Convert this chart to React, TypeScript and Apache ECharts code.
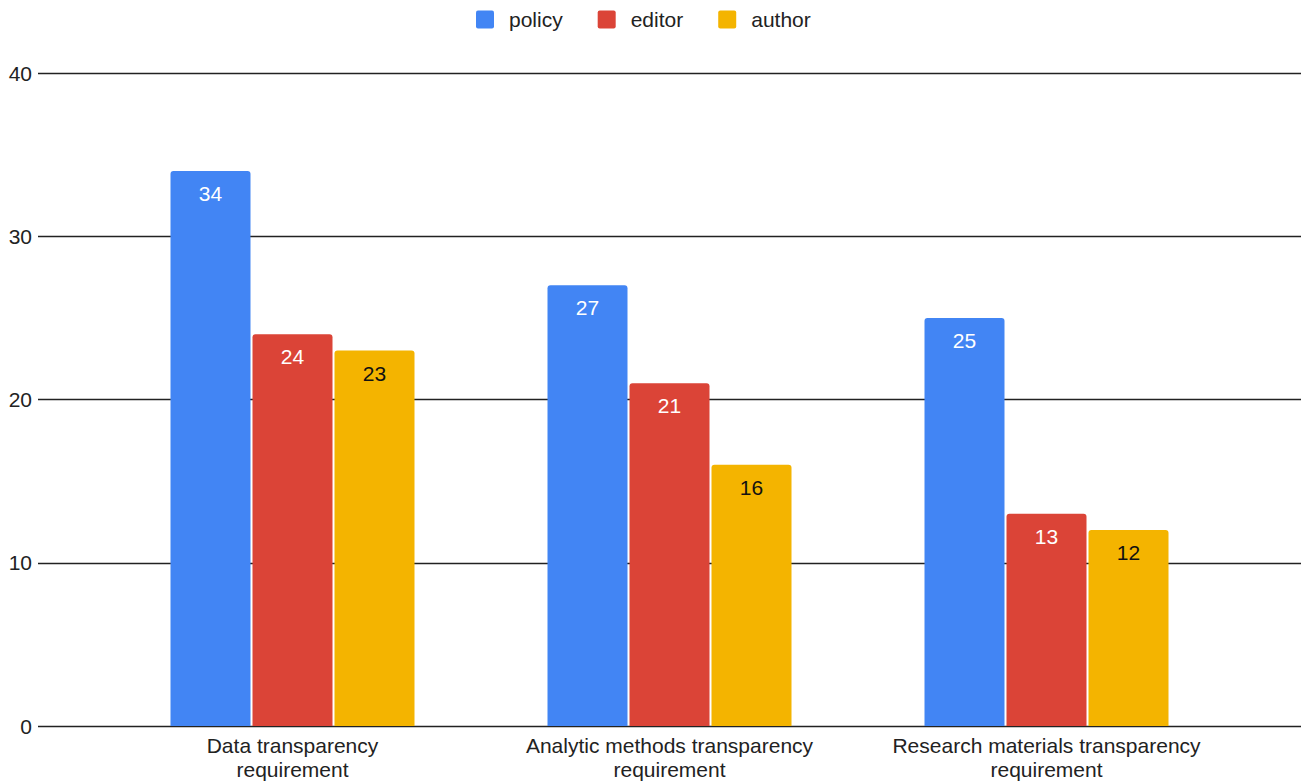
import React, { useEffect, useRef } from "react";
import * as echarts from "echarts";

const categories = [
  "Data transparency\nrequirement",
  "Analytic methods transparency\nrequirement",
  "Research materials transparency\nrequirement",
];
const policy = [34, 27, 25];
const editor = [24, 21, 13];
const author = [23, 16, 12];
const yTicks = { min: 0, max: 40, interval: 10 };

const FONT = "'Liberation Sans', Arial, sans-serif";
const SQUARE = "path://M2,0 H16 Q18,0 18,2 V16 Q18,18 16,18 H2 Q0,18 0,16 V2 Q0,0 2,0 Z";

export default function App() {
  const ref = useRef<HTMLDivElement>(null);
  useEffect(() => {
    document.body.style.margin = "0";
    const chart = echarts.init(ref.current!, undefined, { renderer: "svg" });
    const mkSeries = (name: string, data: number[], color: string, labelColor: string) => ({
      name,
      type: "bar",
      xAxisIndex: 1,
      yAxisIndex: 1,
      data,
      barWidth: 80,
      barGap: "2.5%",
      itemStyle: { color, borderRadius: [3, 3, 0, 0] },
      label: {
        show: true,
        position: "insideTop",
        distance: 12,
        color: labelColor,
        fontSize: 21,
        fontFamily: FONT,
      },
    });
    chart.setOption({
      animation: false,
      textStyle: { fontFamily: FONT },
      legend: {
        top: 4,
        left: 471,
        itemWidth: 18,
        itemHeight: 18,
        itemGap: 35,
        icon: SQUARE,
        textStyle: { fontSize: 21, color: "#222", fontFamily: FONT, padding: [0, 0, 0, 10] },
        data: ["policy", "editor", "author"],
      },
      grid: [
        { left: 38, right: 8, top: 73, bottom: 56 },
        { left: 104, right: 74, top: 73, bottom: 56 },
      ],
      xAxis: [
        {
          type: "category",
          gridIndex: 0,
          data: categories,
          show: false,
        },
        {
          type: "category",
          gridIndex: 1,
          data: categories,
          axisLine: { show: false },
          axisTick: { show: false },
          axisLabel: {
            fontSize: 21,
            color: "#222",
            fontFamily: FONT,
            lineHeight: 24,
            margin: 7,
            interval: 0,
          },
        },
      ],
      yAxis: [
        {
          type: "value",
          gridIndex: 0,
          ...yTicks,
          axisLine: { show: false },
          axisTick: { show: false },
          axisLabel: { fontSize: 21, color: "#222", fontFamily: FONT, margin: 6 },
          splitLine: { lineStyle: { color: "#222", width: 1.3 } },
        },
        {
          type: "value",
          gridIndex: 1,
          ...yTicks,
          show: false,
          splitLine: { show: false },
        },
      ],
      series: [
        mkSeries("policy", policy, "#4285F4", "#fff"),
        mkSeries("editor", editor, "#DB4437", "#fff"),
        mkSeries("author", author, "#F4B400", "#111"),
      ],
    });
    return () => chart.dispose();
  }, []);
  return <div ref={ref} style={{ width: 1309, height: 782 }} />;
}
